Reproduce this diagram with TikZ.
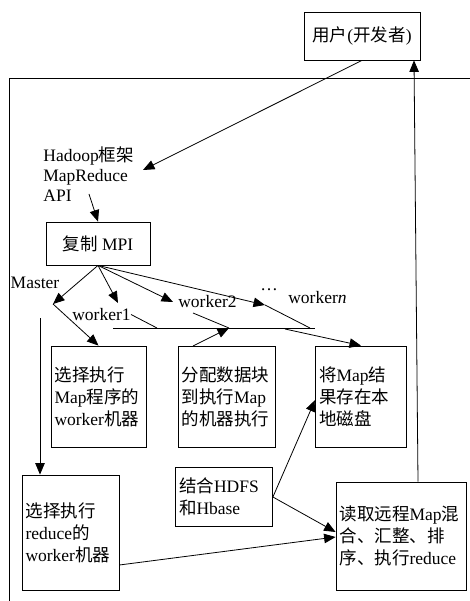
\documentclass[tikz,border=0pt]{standalone}
\usepackage{fontspec}
\setmainfont{Liberation Serif}
\newfontfamily\cjk{Noto Sans CJK SC}
\newcommand\zh[1]{{\cjk #1}}
\usetikzlibrary{arrows.meta}
\begin{document}
\begin{tikzpicture}[x=1pt,y=-1pt,line width=0.8pt,
  box/.style={draw,line width=0.8pt,align=left,inner xsep=3.5pt,inner ysep=2pt,font=\fontsize{17.5}{22}\selectfont},
  ubox/.style={draw,line width=0.8pt,inner sep=2pt,font=\fontsize{17.5}{22}\selectfont},
  lbl/.style={inner sep=0pt,font=\fontsize{17.5}{20}\selectfont},
  arr/.style={-{Triangle[length=11.5pt,width=9.5pt]}}]
\useasboundingbox (0,0) rectangle (470,601);
% frame
\draw (470,78) -- (9.5,78) -- (9.5,601);
% nodes
\node[ubox,minimum width=116pt,minimum height=48pt] (user) at (362,36) {\zh{用户}(\zh{开发者})};
\node[lbl,anchor=north west,align=left] (hadoop) at (43,146.5) {Hadoop\zh{框架}\\MapReduce\\API};
\node[ubox,minimum width=104pt,minimum height=43pt] (mpi) at (98,243.5) {\zh{复制} MPI};
\node[lbl,anchor=base] (master) at (35,288) {Master};
\node[lbl,anchor=base] (w1) at (101.5,320.5) {worker1};
\node[lbl,anchor=base] (w2) at (207.5,307) {worker2};
\node[lbl,anchor=base] (dots) at (269,290) {\ldots};
\node[lbl,anchor=base] (wn) at (317.5,303) {worker\textit{n}};
\node[box,text width=88pt,minimum height=101pt] (b1) at (98.5,396.5) {\zh{选择执行}\\Map\zh{程序的}\\worker\zh{机器}};
\node[box,text width=90pt,minimum height=101pt] (b2) at (226.5,396.5) {\zh{分配数据块}\\\zh{到执行}Map\\\zh{的机器执行}};
\node[box,text width=84pt,minimum height=101pt] (b3) at (361,396.5) {\zh{将}Map\zh{结}\\\zh{果存在本}\\\zh{地磁盘}};
\node[box,text width=90pt,minimum height=59pt] (b4) at (224,497) {\zh{结合}HDFS\\\zh{和}Hbase};
\node[box,text width=90pt,minimum height=115pt] (b5) at (70.5,532.5) {\zh{选择执行}\\reduce\zh{的}\\worker\zh{机器}};
\node[box,text width=123pt,minimum height=108pt] (b6) at (401,536) {\zh{读取远程}Map\zh{混}\\\zh{合、汇整、排}\\\zh{序、执行}reduce};
% helper coordinates
\coordinate (hadtip) at (143,170);
\coordinate (apistart) at (89,194);
\coordinate (mtip) at (53,304);
\coordinate (w1tip) at (118,303);
\coordinate (w2tip) at (173,302);
\coordinate (wntip) at (265,305);
\coordinate (wnend) at (310,328);
\coordinate (hl1) at (113,328);
\coordinate (hl2) at (315,328);
\coordinate (w1foot) at (157,328);
\coordinate (w2a) at (193,313);
\coordinate (junc) at (229,328);
\coordinate (b2top) at (193,346);
\coordinate (hl3) at (285,329);
\coordinate (mline) at (40,318);
% connectors
\draw[arr] (user.south) -- (hadtip);
\draw[arr] (apistart) -- (mpi.north);
\draw[arr] (mpi.south) -- (mtip);
\draw[arr] (mtip) -- (b1.north);
\draw[arr] (mpi.south) -- (w1tip);
\draw[arr] (mpi.south) -- (w2tip);
\draw[arr] (mpi.south) -- (wntip);
\draw (wntip) -- (wnend);
\draw (hl1) -- (hl2);
\draw (w1.east) -- (w1foot);
\draw (w2a) -- (junc);
\draw[arr] (b2top) -- (junc);
\draw[arr] (hl3) -- (b3.north);
\draw[arr] (mline) -- (mline |- b5.north);
\draw[arr] (b5.east |- 0,565) -- (b6.west |- 0,537);
\draw[arr] (b4.east) -- (b3.west |- 0,400);
\draw[arr] (b4.east) -- (b6.west |- 0,532);
\draw[arr] (b6.north -| 418,0) -- (user.south -| 414,0);
\end{tikzpicture}
\end{document}
